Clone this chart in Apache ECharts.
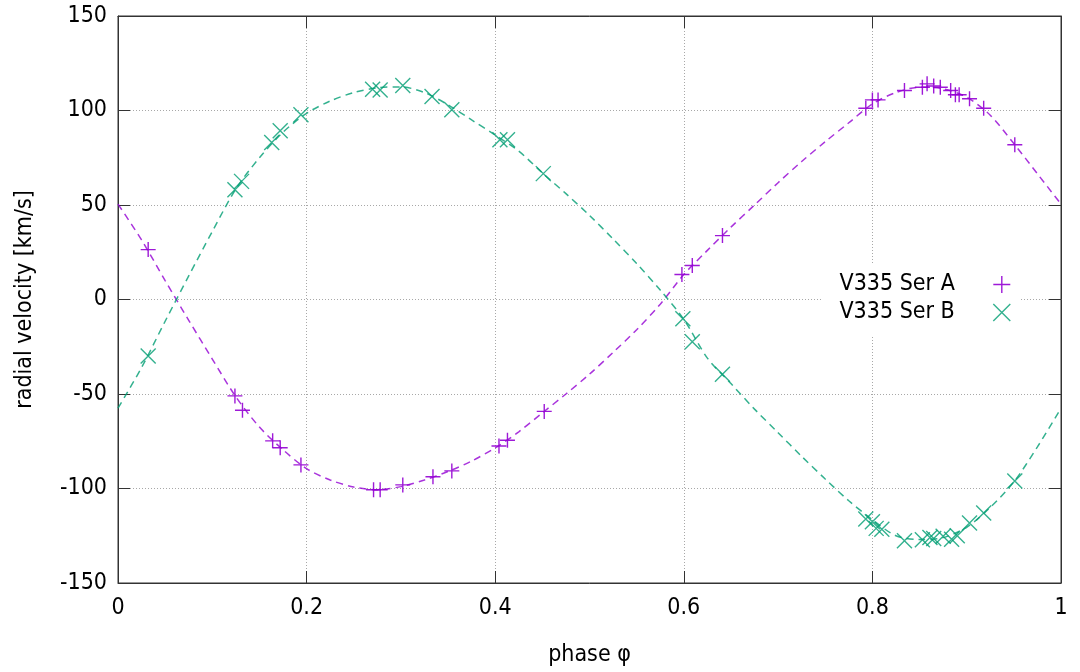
<!DOCTYPE html>
<html>
<head>
<meta charset="utf-8">
<script src="https://cdn.jsdelivr.net/npm/echarts@6/dist/echarts.min.js"></script>
<style>
  html, body { margin: 0; padding: 0; background: #fff; }
  #chart { width: 1080px; height: 672px; }
</style>
</head>
<body>
<div id="chart"></div>
<script>
// Radial velocity measurements of the two components, folded on orbital phase
const phaseA = [0.032, 0.124, 0.132, 0.164, 0.172, 0.194, 0.271, 0.278, 0.302, 0.334, 0.354, 0.404, 0.413, 0.452, 0.598, 0.609, 0.641, 0.793, 0.800, 0.806, 0.834, 0.853, 0.858, 0.865, 0.872, 0.883, 0.888, 0.892, 0.903, 0.918, 0.951];
const rvA = [26.4, -51, -58.6, -74.8, -78.4, -87.5, -100.7, -100.7, -98.1, -93.8, -90.7, -77.5, -74.5, -59.2, 13.2, 18, 33.8, 101.2, 105.6, 105.6, 110.6, 112.3, 114.1, 113, 112.3, 110.6, 108.3, 108.3, 106.2, 101.2, 81.9];

const phaseB = [0.032, 0.124, 0.131, 0.163, 0.172, 0.194, 0.270, 0.278, 0.302, 0.333, 0.354, 0.405, 0.413, 0.451, 0.599, 0.609, 0.641, 0.793, 0.800, 0.804, 0.810, 0.834, 0.853, 0.861, 0.865, 0.875, 0.884, 0.890, 0.903, 0.918, 0.951];
const rvB = [-29.9, 58.1, 62.5, 83.1, 89.3, 97.7, 111.3, 110.9, 113.2, 107.4, 100.4, 84.5, 84.5, 66.6, -10.2, -22.4, -39.6, -116.2, -117.6, -121.1, -121.5, -127.6, -127.1, -125.9, -126.4, -125.3, -126.8, -125.0, -118.3, -113.0, -96.0];

// Orbital solution curves, sampled every 0.025 in phase
const fitPhase = [0, 0.025, 0.05, 0.075, 0.1, 0.125, 0.15, 0.175, 0.2, 0.225, 0.25, 0.275, 0.3, 0.325, 0.35, 0.375, 0.4, 0.425, 0.45, 0.475, 0.5,
                  0.525, 0.55, 0.575, 0.6, 0.625, 0.65, 0.675, 0.7, 0.725, 0.75, 0.775, 0.8, 0.825, 0.85, 0.875, 0.9, 0.925, 0.95, 0.975, 1.0];
const fitA = [50.5, 31.5, 10, -11, -31.5, -51.5, -67.5, -79.5, -89.5, -95.5, -99.2, -100.6, -99, -95.5, -91, -85.5, -78.5, -70, -60, -50, -39.5,
              -28, -16, -2.5, 13.2, 26, 38.3, 50, 61.8, 73, 83.5, 93.5, 103.5, 109.5, 112.3, 111.5, 107, 97.5, 82.5, 66.5, 50.5];
const fitB = [-57.5, -36, -11.5, 12.5, 36, 58.5, 75, 88.5, 98.5, 105, 109.5, 112, 112.5, 109.5, 103, 95, 87, 78.5, 67, 56, 44.5,
              32, 19, 5, -10.5, -31, -44.5, -58, -70.5, -83, -95, -106.5, -116.5, -125, -127, -126, -120.5, -110, -96.5, -78, -57.5];

const xTicks = { min: 0, max: 1, interval: 0.2 };
const yTicks = { min: -150, max: 150, interval: 50 };

const nameA = 'V335 Ser A';
const nameB = 'V335 Ser B';

const colA = '#9400d3';
const colB = '#009e73';
const FONT = "'DejaVu Sans Condensed', 'DejaVu Sans', sans-serif";
const FS = 23;
const PLUS = 'path://M0,8L16,8M8,0L8,16';
const CROSS = 'path://M0,0L16,16M16,0L0,16';

const zip = (xs, ys) => xs.map((x, i) => [x, ys[i]]);

const chart = echarts.init(document.getElementById('chart'), null, { renderer: 'canvas' });

const axisLineStyle = { color: '#333', width: 1 };
const gridLine = { show: true, lineStyle: { color: '#a8a8a8', type: [1, 2], width: 1 } };

chart.setOption({
  backgroundColor: '#fff',
  animation: false,
  grid: { left: 118, right: 19, top: 16, bottom: 88, show: true, borderColor: '#333', borderWidth: 1 },
  xAxis: [
    {
      type: 'value', position: 'bottom', min: xTicks.min, max: xTicks.max, interval: xTicks.interval,
      name: 'phase φ', nameLocation: 'middle', nameGap: 61,
      nameTextStyle: { fontFamily: FONT, fontSize: FS, color: '#000' },
      axisLine: { show: true, onZero: false, lineStyle: axisLineStyle },
      axisTick: { show: true, inside: true, length: 12, lineStyle: axisLineStyle },
      axisLabel: { fontFamily: FONT, fontSize: FS, color: '#000', margin: 14 },
      splitLine: gridLine
    },
    {
      type: 'value', position: 'top', min: xTicks.min, max: xTicks.max, interval: xTicks.interval,
      axisLine: { show: true, onZero: false, lineStyle: axisLineStyle },
      axisTick: { show: true, inside: true, length: 12, lineStyle: axisLineStyle },
      axisLabel: { show: false },
      splitLine: { show: false }
    }
  ],
  yAxis: [
    {
      type: 'value', position: 'left', min: yTicks.min, max: yTicks.max, interval: yTicks.interval,
      name: 'radial velocity [km/s]', nameLocation: 'middle', nameGap: 81, nameRotate: 90,
      nameTextStyle: { fontFamily: FONT, fontSize: FS, color: '#000' },
      axisLine: { show: true, onZero: false, lineStyle: axisLineStyle },
      axisTick: { show: true, inside: true, length: 12, lineStyle: axisLineStyle },
      axisLabel: { fontFamily: FONT, fontSize: FS, color: '#000', margin: 11 },
      splitLine: gridLine
    },
    {
      type: 'value', position: 'right', min: yTicks.min, max: yTicks.max, interval: yTicks.interval,
      axisLine: { show: true, onZero: false, lineStyle: axisLineStyle },
      axisTick: { show: true, inside: true, length: 12, lineStyle: axisLineStyle },
      axisLabel: { show: false },
      splitLine: { show: false }
    }
  ],
  legend: {
    orient: 'vertical',
    right: 59,
    top: 265,
    align: 'right',
    backgroundColor: '#fff',
    padding: [8, 10, 12, 18],
    itemWidth: 84,
    itemHeight: 17,
    itemGap: 5,
    symbolKeepAspect: true,
    selectedMode: false,
    textStyle: { fontFamily: FONT, fontSize: FS, color: '#000' },
    data: [
      { name: nameA, icon: PLUS, itemStyle: { color: colA, borderColor: colA, borderWidth: 1.4 } },
      { name: nameB, icon: CROSS, itemStyle: { color: colB, borderColor: colB, borderWidth: 1.4 } }
    ]
  },
  series: [
    {
      name: 'fit A', type: 'line', xAxisIndex: 0, yAxisIndex: 0,
      data: zip(fitPhase, fitA), smooth: 0.3, showSymbol: false, silent: true,
      lineStyle: { color: colA, width: 1.5, type: [7, 5], opacity: 0.8 }, z: 2
    },
    {
      name: 'fit B', type: 'line', xAxisIndex: 0, yAxisIndex: 0,
      data: zip(fitPhase, fitB), smooth: 0.3, showSymbol: false, silent: true,
      lineStyle: { color: colB, width: 1.5, type: [7, 5], opacity: 0.8 }, z: 2
    },
    {
      name: nameA, type: 'scatter', xAxisIndex: 0, yAxisIndex: 0,
      data: zip(phaseA, rvA), symbol: PLUS, symbolSize: 15,
      itemStyle: { color: colA, borderColor: colA, borderWidth: 1.4, opacity: 0.9 }, z: 3
    },
    {
      name: nameB, type: 'scatter', xAxisIndex: 0, yAxisIndex: 0,
      data: zip(phaseB, rvB), symbol: CROSS, symbolSize: 15,
      itemStyle: { color: colB, borderColor: colB, borderWidth: 1.4, opacity: 0.8 }, z: 3
    }
  ]
});
</script>
</body>
</html>
